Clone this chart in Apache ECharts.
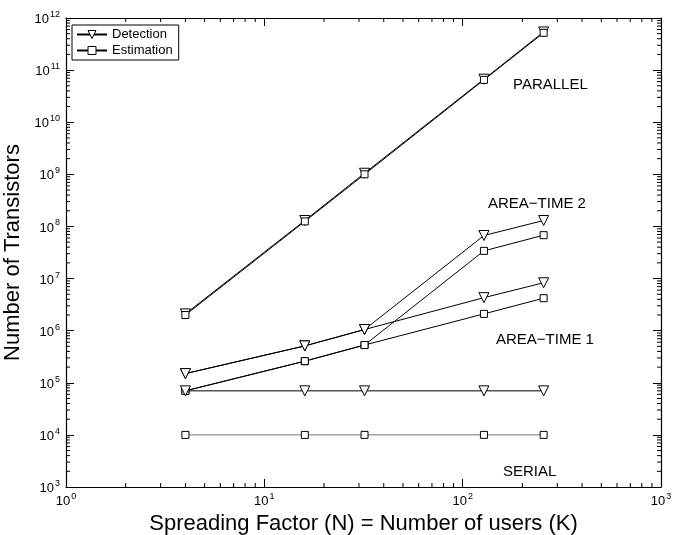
<!DOCTYPE html>
<html>
<head>
<meta charset="utf-8">
<script src="https://cdn.jsdelivr.net/npm/echarts@6/dist/echarts.min.js"></script>
<style>
  html, body { margin: 0; padding: 0; background: #fff; }
  #main { width: 677px; height: 535px; }
</style>
</head>
<body>
<div id="main"></div>
<script>
// spreading factor values on x
var spreading = [4, 16, 32, 128, 256];

// transistor counts
var parallelDet = [2.1e6, 1.3e8, 1.05e9, 6.7e10, 5.4e11];
var parallelEst = [2.0e6, 1.25e8, 1.0e9, 6.5e10, 5.2e11];
var areaTime2Det = [1.5e5, 5.1e5, 1.05e6, 6.7e7, 1.3e8];
var areaTime2Est = [7e4, 2.6e5, 5.3e5, 3.4e7, 6.8e7];
var areaTime1Det = [1.5e5, 5.1e5, 1.05e6, 4.3e6, 8.3e6];
var areaTime1Est = [7e4, 2.6e5, 5.3e5, 2.1e6, 4.2e6];
var serialDet = [7e4, 7e4, 7e4, 7e4, 7e4];
var serialEst = [1e4, 1e4, 1e4, 1e4, 1e4];

// axis ranges (exponents)
var xExp = [0, 3];
var yExp = [3, 12];

var myChart = echarts.init(document.getElementById('main'));

function pairs(vals) {
    return spreading.map(function (n, i) { return [n, vals[i]]; });
}

// minor tick positions 2..9 per decade
function minorTicks(e0, e1) {
    var out = [];
    for (var k = e0; k < e1; k++) {
        for (var m = 2; m <= 9; m++) out.push(m * Math.pow(10, k));
    }
    return out;
}

var xMin = Math.pow(10, xExp[0]), xMax = Math.pow(10, xExp[1]);
var yMin = Math.pow(10, yExp[0]), yMax = Math.pow(10, yExp[1]);

var powLabel = function (v) {
    var e = Math.round(Math.log10(v));
    return '{b|10}{s|' + e + '}';
};
var richSup = {
    b: { fontSize: 13, fontFamily: 'Liberation Sans', color: '#000', lineHeight: 16, verticalAlign: 'bottom' },
    s: { fontSize: 9, fontFamily: 'Liberation Sans', color: '#000', lineHeight: 16, verticalAlign: 'top', padding: [0, 0, 0, 1] }
};

var detStyle = {
    type: 'line',
    name: 'Detection',
    symbol: 'triangle',
    symbolRotate: 180,
    symbolSize: 10,
    showAllSymbol: true,
    itemStyle: { color: '#fff', borderColor: '#000', borderWidth: 1 },
    lineStyle: { color: '#000', width: 1 },
    emphasis: { disabled: true },
    z: 3
};
var estStyle = {
    type: 'line',
    name: 'Estimation',
    symbol: 'rect',
    symbolSize: 7,
    showAllSymbol: true,
    itemStyle: { color: '#fff', borderColor: '#000', borderWidth: 1 },
    lineStyle: { color: '#000', width: 1 },
    emphasis: { disabled: true },
    z: 3
};

function line(base, vals, extra) {
    return Object.assign({}, base, { data: pairs(vals) }, extra || {});
}

var tickLen = 4;

var option = {
    animation: false,
    backgroundColor: '#fff',
    textStyle: { fontFamily: 'Liberation Sans' },
    grid: { left: 66, right: 16, top: 18, bottom: 48, outerBoundsMode: 'none', containLabel: false },
    legend: {
        data: ['Detection', 'Estimation'],
        orient: 'vertical',
        left: 72,
        top: 25,
        itemWidth: 30,
        itemHeight: 10,
        itemGap: 3,
        padding: [3, 6, 3, 4],
        borderColor: '#000',
        borderWidth: 1,
        backgroundColor: '#fff',
        itemStyle: { color: '#fff', borderColor: '#000', borderWidth: 1 },
        textStyle: { fontSize: 13, color: '#000', fontFamily: 'Liberation Sans' }
    },
    xAxis: [
        {
            type: 'log', logBase: 10, min: xMin, max: xMax, splitNumber: 3,
            position: 'bottom',
            name: 'Spreading Factor (N) = Number of users (K)',
            nameLocation: 'middle', nameGap: 25,
            nameTextStyle: { fontSize: 22, color: '#000', fontFamily: 'Liberation Sans' },
            axisLine: { lineStyle: { color: '#000', width: 1.2 } },
            axisTick: { inside: true, length: 8, lineStyle: { color: '#000' } },
            axisLabel: { formatter: powLabel, rich: richSup, margin: 5 },
            splitLine: { show: false }
        },
        {
            type: 'log', logBase: 10, min: xMin, max: xMax, splitNumber: 3,
            position: 'top',
            axisLine: { lineStyle: { color: '#000', width: 1.2 } },
            axisTick: { inside: true, length: 8, lineStyle: { color: '#000' } },
            axisLabel: { show: false },
            splitLine: { show: false }
        }
    ],
    yAxis: [
        {
            type: 'log', logBase: 10, min: yMin, max: yMax, splitNumber: 9,
            position: 'left',
            name: 'Number of Transistors',
            nameLocation: 'middle', nameGap: 30,
            nameTextStyle: { fontSize: 22, color: '#000', fontFamily: 'Liberation Sans' },
            axisLine: { lineStyle: { color: '#000', width: 1.2 } },
            axisTick: { inside: true, length: 8, lineStyle: { color: '#000' } },
            axisLabel: { formatter: powLabel, rich: richSup, margin: 6 },
            splitLine: { show: false }
        },
        {
            type: 'log', logBase: 10, min: yMin, max: yMax, splitNumber: 9,
            position: 'right',
            axisLine: { lineStyle: { color: '#000', width: 1.2 } },
            axisTick: { inside: true, length: 8, lineStyle: { color: '#000' } },
            axisLabel: { show: false },
            splitLine: { show: false }
        }
    ],
    graphic: [
        { type: 'text', left: 513, top: 77, style: { text: 'PARALLEL', font: '15px "Liberation Sans"', fill: '#000' } },
        { type: 'text', left: 488, top: 196, style: { text: 'AREA\u2212TIME 2', font: '15px "Liberation Sans"', fill: '#000' } },
        { type: 'text', left: 496, top: 332, style: { text: 'AREA\u2212TIME 1', font: '15px "Liberation Sans"', fill: '#000' } },
        { type: 'text', left: 503, top: 464, style: { text: 'SERIAL', font: '15px "Liberation Sans"', fill: '#000' } }
    ],
    series: [
        line(detStyle, parallelDet),
        line(estStyle, parallelEst),
        line(detStyle, areaTime2Det),
        line(estStyle, areaTime2Est),
        line(detStyle, areaTime1Det),
        line(estStyle, areaTime1Est),
        line(detStyle, serialDet),
        line(estStyle, serialEst, { lineStyle: { color: '#777', width: 1 } }),
        {
            // minor ticks along bottom and top
            type: 'custom', silent: true, clip: false, z: 5,
            data: minorTicks(xExp[0], xExp[1]).map(function (v) { return [v, yMin]; }),
            renderItem: function (params, api) {
                var v = api.value(0);
                var b = api.coord([v, yMin]);
                var t = api.coord([v, yMax]);
                var st = { stroke: '#000', lineWidth: 1 };
                return { type: 'group', children: [
                    { type: 'line', shape: { x1: b[0], y1: b[1], x2: b[0], y2: b[1] - tickLen }, style: st },
                    { type: 'line', shape: { x1: t[0], y1: t[1], x2: t[0], y2: t[1] + tickLen }, style: st }
                ] };
            }
        },
        {
            // minor ticks along left and right
            type: 'custom', silent: true, clip: false, z: 5,
            data: minorTicks(yExp[0], yExp[1]).map(function (v) { return [xMin, v]; }),
            renderItem: function (params, api) {
                var v = api.value(1);
                var l = api.coord([xMin, v]);
                var r = api.coord([xMax, v]);
                var st = { stroke: '#000', lineWidth: 1 };
                return { type: 'group', children: [
                    { type: 'line', shape: { x1: l[0], y1: l[1], x2: l[0] + tickLen, y2: l[1] }, style: st },
                    { type: 'line', shape: { x1: r[0], y1: r[1], x2: r[0] - tickLen, y2: r[1] }, style: st }
                ] };
            }
        }
    ]
};

myChart.setOption(option);
</script>
</body>
</html>
